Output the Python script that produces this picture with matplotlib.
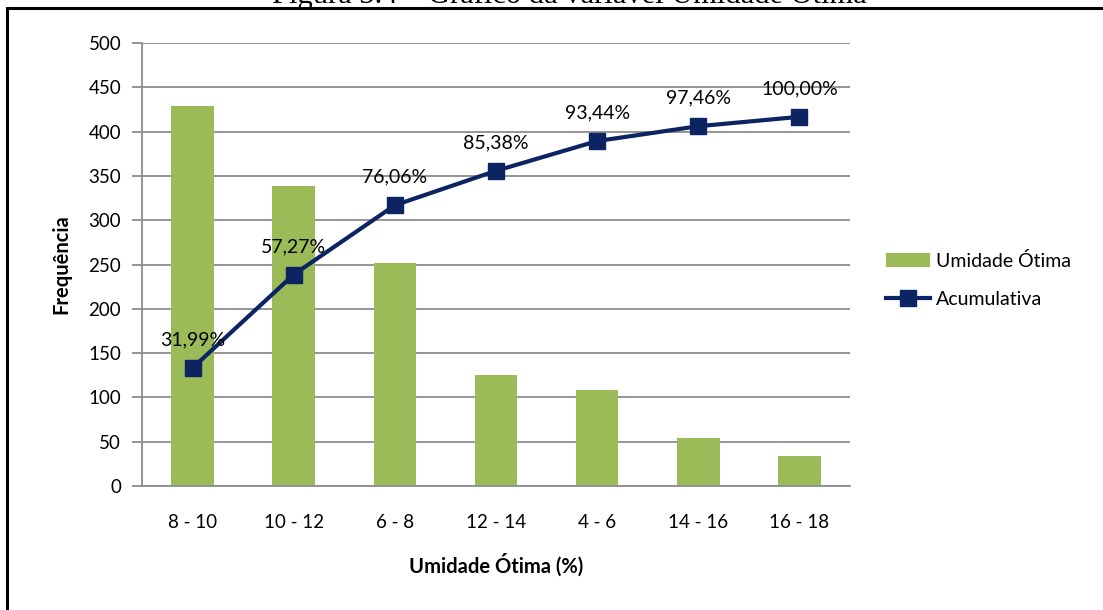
import matplotlib.pyplot as plt
from matplotlib.patches import Rectangle
from matplotlib.lines import Line2D
from matplotlib.patches import Patch

plt.rcParams['font.family'] = ['Lato', 'DejaVu Sans']

# frequency table, sorted by count
classes = ['8 - 10', '10 - 12', '6 - 8', '12 - 14', '4 - 6', '14 - 16', '16 - 18']
freq = [429, 339, 252, 125, 108, 54, 34]
cum_pct = [31.99, 57.27, 76.06, 85.38, 93.44, 97.46, 100.00]
pct_labels = ['31,99%', '57,27%', '76,06%', '85,38%', '93,44%', '97,46%', '100,00%']
y_ticks = [0, 50, 100, 150, 200, 250, 300, 350, 400, 450, 500]

bar_color = '#9BBB59'
line_color = '#0C2461'
grid_color = '#8C8C8C'

fig = plt.figure(figsize=(11.03, 6.10), dpi=100)

# page frame and the caption line above it (mostly cut off)
fig.patches.append(Rectangle((7 / 1103, -0.1), 1.2, 1 - 8 / 610 + 0.1,
                             transform=fig.transFigure, fill=False,
                             edgecolor='black', linewidth=2.2))
fig.text(569 / 1103, 1 - 3 / 610, 'Figura 3.4 – Gráfico da variável Umidade Ótima',
         family='Liberation Serif', fontsize=22, ha='center', va='baseline')

ax = fig.add_axes([142 / 1103, 1 - 486 / 610, 708 / 1103, 443 / 610])
x = list(range(len(classes)))
ax.bar(x, freq, width=0.42, color=bar_color, zorder=2)
ax.set_xlim(-0.5, len(classes) - 0.5)
ax.set_ylim(0, 500)
ax.set_yticks(y_ticks)
ax.set_xticks(x)
ax.set_xticklabels(classes)
ax.yaxis.grid(True, color=grid_color, linewidth=1.3)
ax.set_axisbelow(True)
for s in ['top', 'right']:
    ax.spines[s].set_visible(False)
ax.spines['left'].set_color(grid_color)
ax.spines['bottom'].set_color(grid_color)
ax.spines['left'].set_linewidth(1.3)
ax.spines['bottom'].set_linewidth(1.3)
ax.tick_params(axis='y', length=7, color=grid_color, width=1.3, labelsize=13.5, pad=8)
ax.tick_params(axis='x', length=0, labelsize=13.5, pad=20)
ax.set_ylabel('Frequência', fontsize=14.5, fontweight='bold', labelpad=12)
ax.set_xlabel('Umidade Ótima (%)', fontsize=14.5, fontweight='bold', labelpad=16)

# cumulative percentage on a hidden secondary scale (0-120%)
ax2 = ax.twinx()
ax2.set_ylim(0, 120)
ax2.set_yticks([])
for s in ax2.spines.values():
    s.set_visible(False)
ax2.plot(x, cum_pct, color=line_color, linewidth=3, marker='s', markersize=12,
         zorder=3)
for xi, yi, lab in zip(x, cum_pct, pct_labels):
    ax2.annotate(lab, (xi, yi), xytext=(0, 28), textcoords='offset pixels',
                 ha='center', va='center', fontsize=14)

handles = [Patch(facecolor=bar_color, edgecolor='none'),
           Line2D([], [], color=line_color, linewidth=3, marker='s', markersize=12)]
fig.legend(handles, ['Umidade Ótima', 'Acumulativa'], loc='center left',
           bbox_to_anchor=(868 / 1103, 1 - 280 / 610), frameon=False,
           fontsize=14, handlelength=2.3, handleheight=0.8, labelspacing=1.1,
           handletextpad=0.3)

fig.savefig('out.png', dpi=100)
